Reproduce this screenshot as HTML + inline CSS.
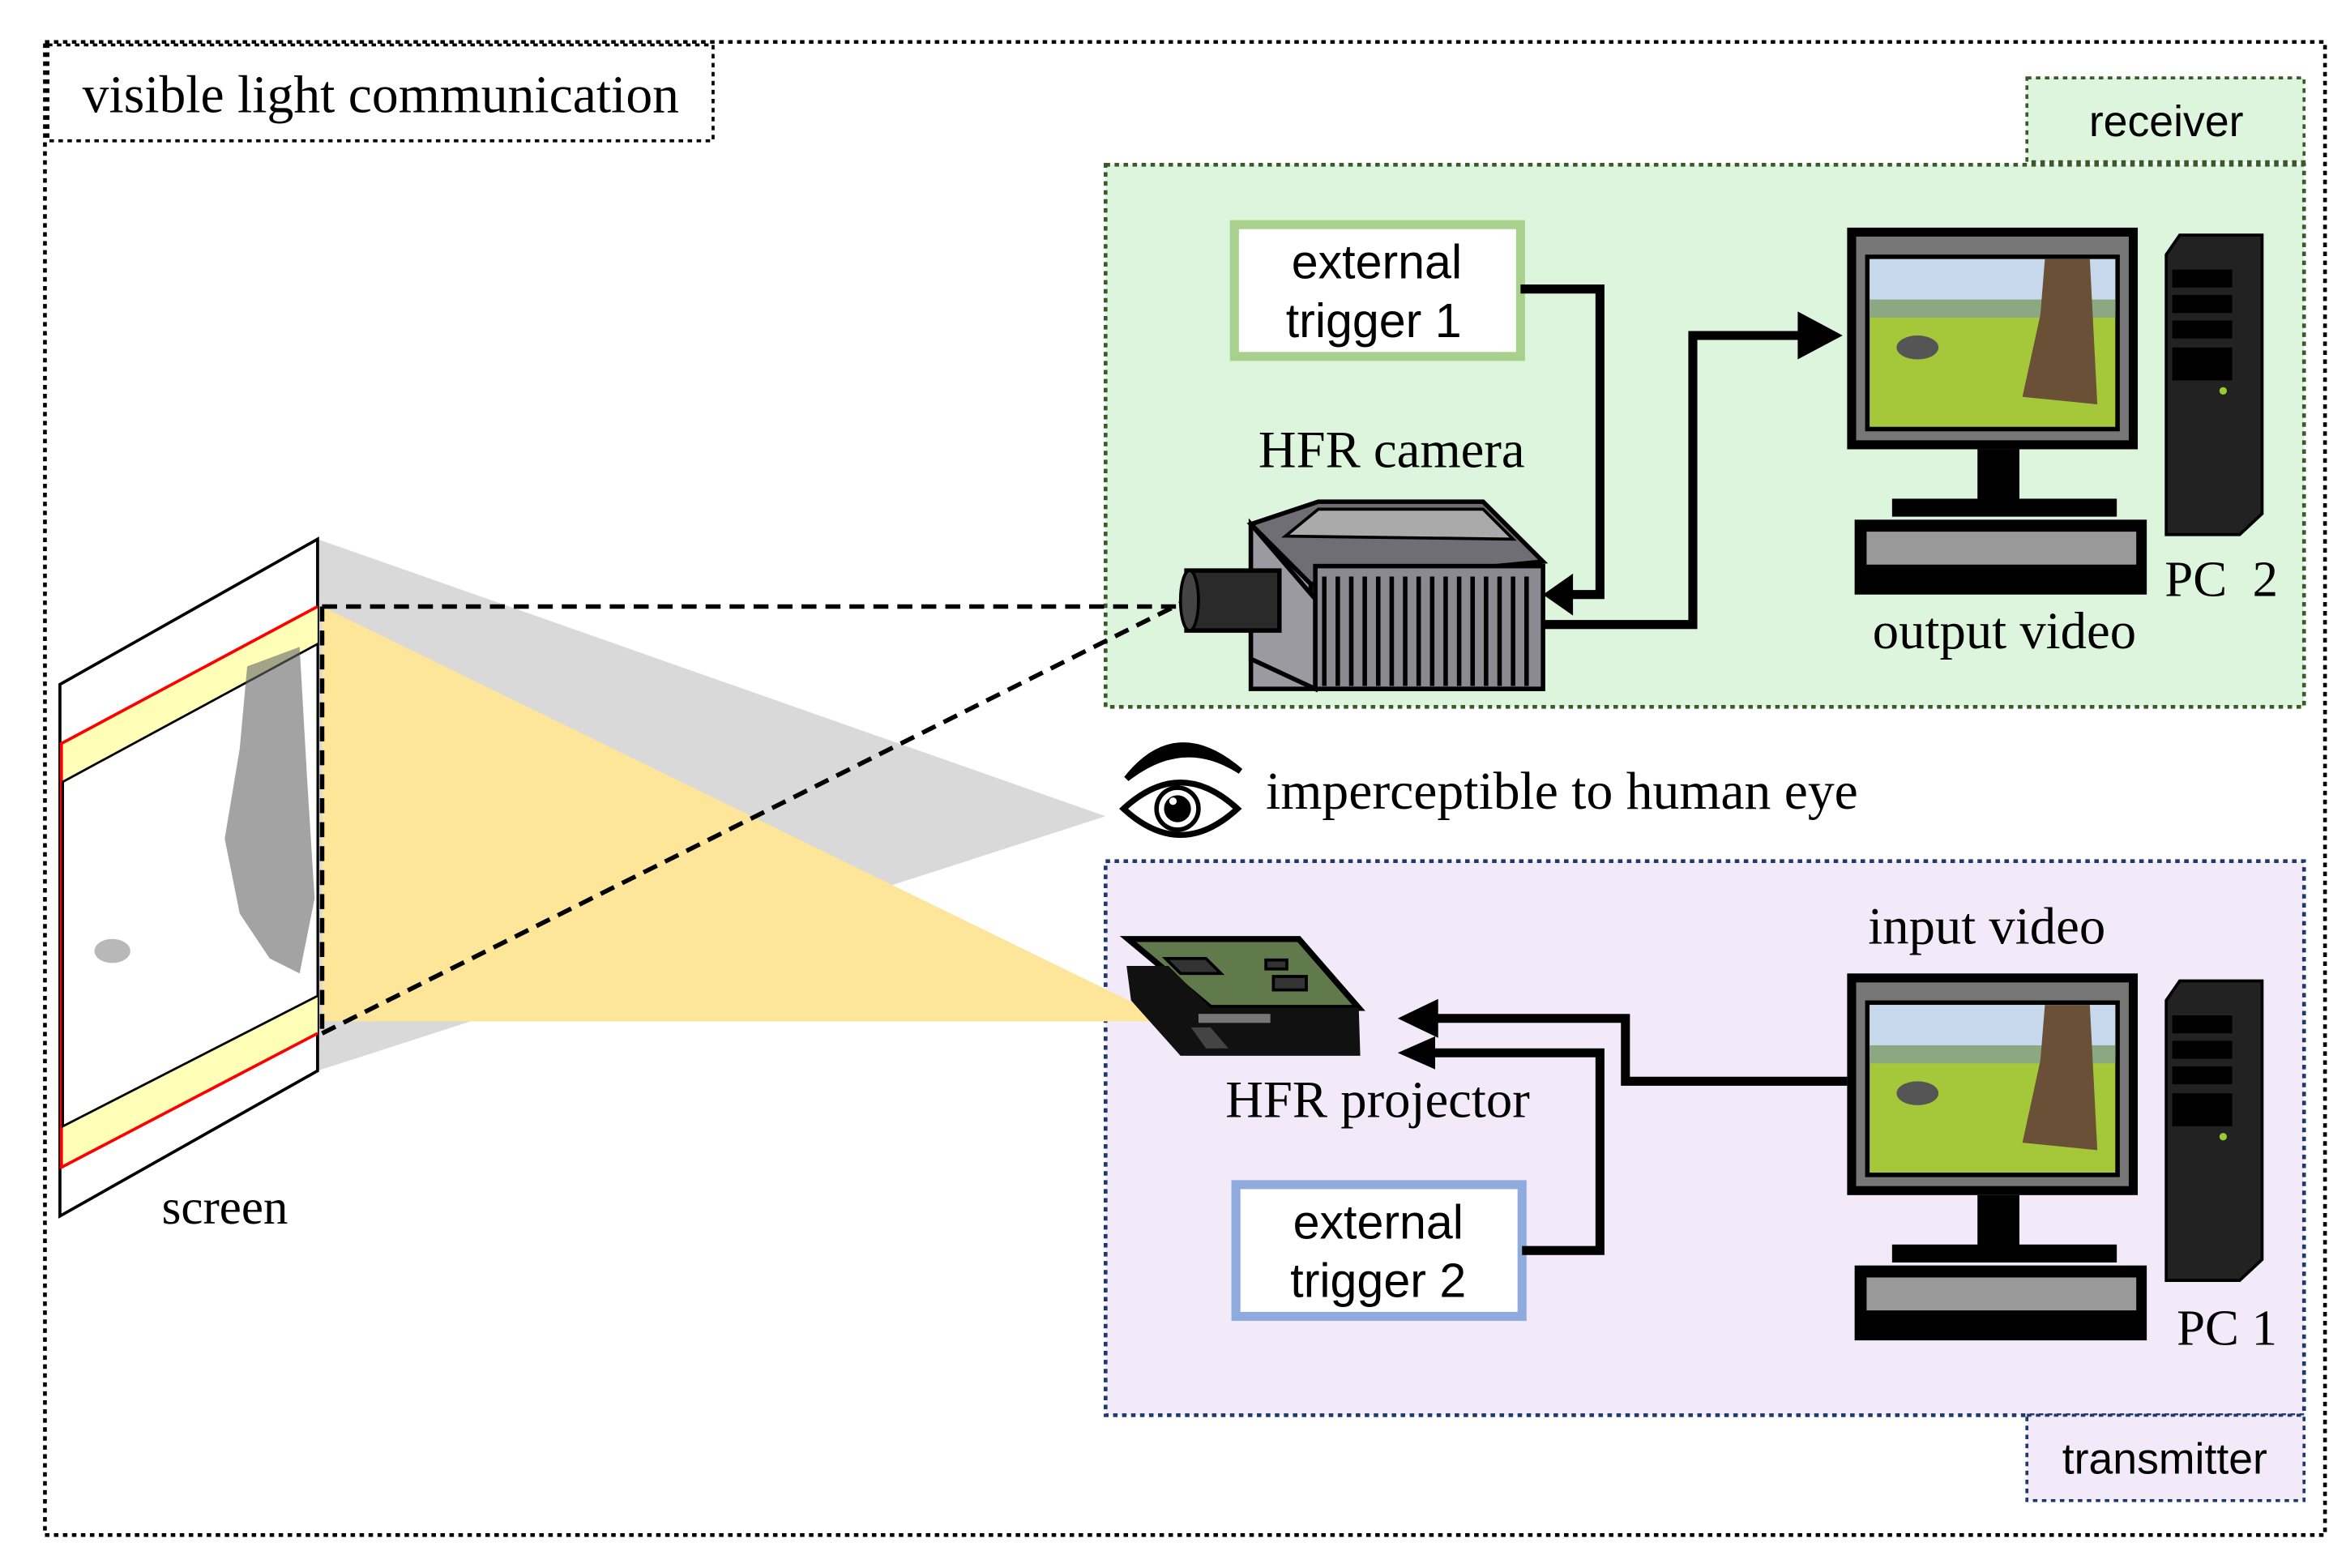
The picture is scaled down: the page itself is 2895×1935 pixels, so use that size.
<!DOCTYPE html>
<html><head><meta charset="utf-8"><style>
html,body{margin:0;padding:0;background:#fff;}
svg{display:block;}
.serif{font-family:"Liberation Serif",serif;}
.sans{font-family:"Liberation Sans",sans-serif;}
</style></head><body>
<svg width="2895" height="1935" viewBox="0 0 1566 1047" preserveAspectRatio="none" xmlns="http://www.w3.org/2000/svg">
<rect x="0" y="0" width="1566" height="1047" fill="#fff"/>
<rect x="30" y="28" width="1522" height="997" fill="none" stroke="#000" stroke-width="2.5" stroke-dasharray="3,3"/>
<rect x="32" y="30" width="444" height="64" fill="#fff" stroke="#000" stroke-width="2" stroke-dasharray="3,3"/>
<text x="55" y="75" class="serif" font-size="35.5">visible light communication</text>

<rect x="738" y="110" width="800" height="362" fill="#dcf5dc" stroke="#3a5a2a" stroke-width="2.5" stroke-dasharray="3,3"/>
<rect x="1353" y="52" width="185" height="56" fill="#dcf5dc" stroke="#3a5a2a" stroke-width="2" stroke-dasharray="3,3"/>
<text x="1446" y="91" class="sans" font-size="29" text-anchor="middle">receiver</text>

<rect x="738" y="575" width="800" height="370" fill="#f2eaf8" stroke="#1f3a6a" stroke-width="2.5" stroke-dasharray="3,3"/>
<rect x="1353" y="945" width="185" height="57" fill="#f2eaf8" stroke="#1f3a6a" stroke-width="2" stroke-dasharray="3,3"/>
<text x="1445" y="984" class="sans" font-size="29" text-anchor="middle">transmitter</text>

<polygon points="212,360 738,545 212,715" fill="#d9d9d9"/>
<polygon points="215,405 782,682 215,682" fill="#fde59a"/>

<polygon points="40,457 212,360 212,715 40,812" fill="#fff" stroke="#000" stroke-width="2"/>
<polygon points="40,497 212,405 212,430 40,522" fill="#ffffb8"/>
<line x1="40" y1="497" x2="212" y2="405" stroke="#f00" stroke-width="2"/>
<polygon points="40,752 212,665 212,690 40,780" fill="#ffffb8"/>
<line x1="40" y1="780" x2="212" y2="690" stroke="#f00" stroke-width="2"/>
<line x1="41" y1="497" x2="41" y2="780" stroke="#f00" stroke-width="2"/>
<polygon points="42,522 212,430 212,665 42,752" fill="#fff" stroke="#000" stroke-width="1.5"/>
<path d="M165,445 L200,432 L205,520 L210,600 L200,650 L180,640 L160,610 L150,560 L160,500 Z" fill="#666" opacity="0.6"/>
<ellipse cx="75" cy="635" rx="12" ry="8" fill="#888" opacity="0.6"/>
<text x="108" y="817" class="serif" font-size="33">screen</text>

<g stroke="#000" stroke-width="3" stroke-dasharray="10,6" fill="none">
<line x1="215" y1="405" x2="790" y2="405"/>
<line x1="215" y1="405" x2="215" y2="690"/>
<line x1="215" y1="690" x2="790" y2="402"/>
</g>

<rect x="824" y="150" width="191" height="88" fill="#fff" stroke="#a9d18e" stroke-width="6"/>
<text x="919" y="186" class="sans" font-size="32" text-anchor="middle">external</text>
<text x="917" y="225" class="sans" font-size="32" text-anchor="middle">trigger 1</text>
<rect x="825" y="791" width="191" height="88" fill="#fff" stroke="#8faadc" stroke-width="6"/>
<text x="920" y="827" class="sans" font-size="32" text-anchor="middle">external</text>
<text x="920" y="866" class="sans" font-size="32" text-anchor="middle">trigger 2</text>

<g stroke="#000" stroke-width="6" fill="none">
<polyline points="1015,193 1068,193 1068,397 1045,397"/>
<polyline points="1030,417 1130,417 1130,224 1205,224"/>
<polyline points="1233,722 1085,722 1085,680 958,680"/>
<polyline points="1016,835 1068,835 1068,703 958,703"/>
</g>
<polygon points="1030,397 1050,383 1050,411" fill="#000"/>
<polygon points="1230,224 1200,208 1200,240" fill="#000"/>
<polygon points="933,680 960,667 960,693" fill="#000"/>
<polygon points="933,703 958,692 958,714" fill="#000"/>

<text x="840" y="312" class="serif" font-size="35">HFR camera</text>
<polygon points="835,350 875,345 875,460 835,460" fill="#9a9aa0" stroke="#000" stroke-width="3"/>
<polygon points="835,350 880,335 990,335 1030,375 875,390" fill="#6e6e74" stroke="#000" stroke-width="3"/>
<polygon points="858,358 880,340 990,340 1010,360" fill="#aaa" stroke="#000" stroke-width="2"/>
<polygon points="835,350 878,400 878,460 835,440" fill="#9a9aa0" stroke="#000" stroke-width="3"/>
<rect x="878" y="378" width="152" height="82" fill="#8a8a90" stroke="#000" stroke-width="3"/>
<g stroke="#000" stroke-width="3">
<line x1="884" y1="385" x2="884" y2="458"/><line x1="893" y1="385" x2="893" y2="458"/>
<line x1="902" y1="385" x2="902" y2="458"/><line x1="911" y1="385" x2="911" y2="458"/>
<line x1="920" y1="385" x2="920" y2="458"/><line x1="929" y1="385" x2="929" y2="458"/>
<line x1="938" y1="385" x2="938" y2="458"/><line x1="947" y1="385" x2="947" y2="458"/>
<line x1="956" y1="385" x2="956" y2="458"/><line x1="965" y1="385" x2="965" y2="458"/>
<line x1="974" y1="385" x2="974" y2="458"/><line x1="983" y1="385" x2="983" y2="458"/>
<line x1="992" y1="385" x2="992" y2="458"/><line x1="1001" y1="385" x2="1001" y2="458"/>
<line x1="1010" y1="385" x2="1010" y2="458"/><line x1="1019" y1="385" x2="1019" y2="458"/>
</g>
<rect x="792" y="381" width="62" height="40" fill="#2a2a2a" stroke="#000" stroke-width="3"/>
<ellipse cx="794" cy="401" rx="6" ry="20" fill="#444" stroke="#000" stroke-width="2"/>

<g id="m2">
<rect x="1233" y="152" width="194" height="148" fill="#000"/>
<rect x="1239" y="158" width="182" height="136" fill="#777"/>
<rect x="1245" y="170" width="170" height="118" fill="#000"/>
<rect x="1248" y="173" width="164" height="112" fill="#a5c83a"/>
<rect x="1248" y="173" width="164" height="35" fill="#c8d8ec"/>
<rect x="1248" y="200" width="164" height="12" fill="#8ca882"/>
<polygon points="1365,173 1395,173 1400,270 1350,265 1362,210" fill="#6b5038"/>
<ellipse cx="1280" cy="232" rx="14" ry="8" fill="#555"/>
<rect x="1320" y="300" width="28" height="35" fill="#000"/>
<rect x="1263" y="333" width="150" height="12" fill="#000"/>
<rect x="1238" y="347" width="195" height="50" fill="#000"/>
<rect x="1246" y="355" width="180" height="22" fill="#999"/>
<polygon points="1446,170 1455,157 1510,157 1510,343 1495,357 1446,357" fill="#222" stroke="#000" stroke-width="2"/>
<rect x="1450" y="180" width="40" height="12" fill="#000"/>
<rect x="1450" y="197" width="40" height="12" fill="#000"/>
<rect x="1450" y="214" width="40" height="12" fill="#000"/>
<rect x="1450" y="232" width="40" height="22" fill="#000"/>
<circle cx="1484" cy="261" r="2.5" fill="#9c3"/>
</g>
<use href="#m2" transform="translate(0,498)"/>
<text x="1445" y="398" class="serif" font-size="34">PC&#160;&#160;2</text>
<text x="1250" y="433" class="serif" font-size="35">output video</text>
<text x="1453" y="898" class="serif" font-size="34">PC 1</text>
<text x="1247" y="630" class="serif" font-size="35">input video</text>

<path d="M752,520 Q785,478 828,515 Q790,490 752,520 Z" fill="#000" stroke="#000" stroke-width="4"/>
<path d="M750,540 Q788,505 826,540 Q788,575 750,540 Z" fill="#fff" stroke="#000" stroke-width="4"/>
<circle cx="786" cy="540" r="14" fill="#fff" stroke="#000" stroke-width="3"/>
<circle cx="786" cy="540" r="9" fill="#000"/>
<circle cx="783" cy="535" r="2.5" fill="#fff"/>
<text x="845" y="540" class="serif" font-size="35.5">imperceptible to human eye</text>

<polygon points="753,627 867,627 907,673 808,673" fill="#617a4c" stroke="#000" stroke-width="4"/>
<polygon points="778,640 805,640 815,650 788,650" fill="#333" stroke="#000" stroke-width="2"/>
<rect x="850" y="652" width="22" height="9" fill="#333" stroke="#000" stroke-width="2"/>
<rect x="845" y="641" width="14" height="6" fill="#333" stroke="#000" stroke-width="2"/>
<polygon points="752,645 780,645 808,673 907,673 908,705 788,705 755,668" fill="#111"/>
<rect x="800" y="677" width="48" height="6" fill="#777"/>
<polygon points="795,686 808,686 820,700 805,700" fill="#444"/>
<text x="818" y="746" class="serif" font-size="35">HFR projector</text>
</svg>
</body></html>
